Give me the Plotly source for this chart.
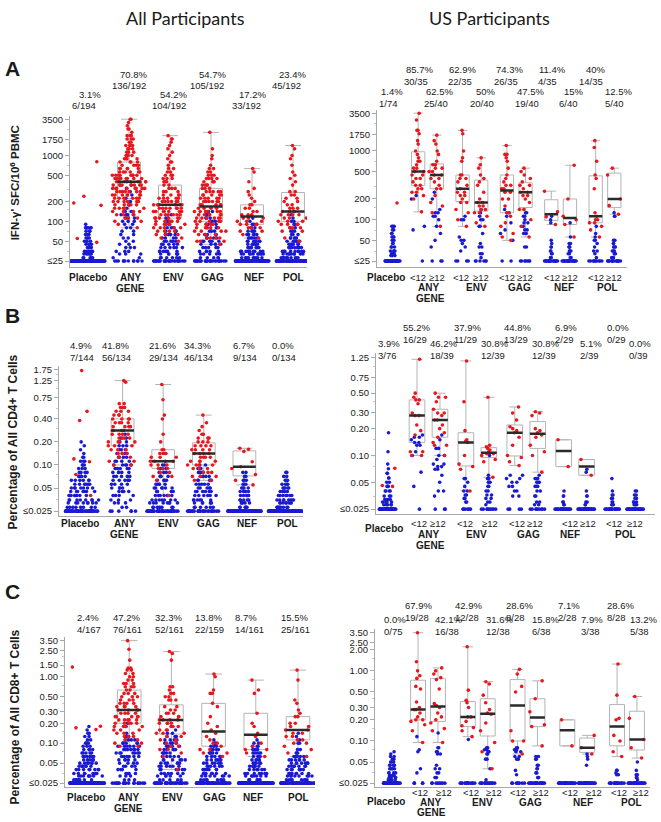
import numpy as np
import plotly.graph_objects as go

W, H = 661, 822

# ======================= DATA =======================
# each series: list of (value, number of dots at that value)
# ---- Panel A, all participants (IFN-g SFC/10^6 PBMC); order: Placebo, ANY GENE, ENV, GAG, NEF, POL
A_ALL_RED = [
    [(800, 1), (240, 1), (190, 1), (175, 1), (55, 1), (48, 1)],
    [(80, 1), (90, 1), (100, 2), (112, 3), (126, 3), (141, 4), (158, 5), (178, 6), (200, 6), (224, 6), (251, 7), (282, 7),
     (316, 8), (355, 8), (398, 8), (447, 8), (501, 8), (562, 6), (631, 5), (708, 4), (794, 4), (891, 4), (1000, 3), (1122, 3),
     (1259, 3), (1413, 4), (1585, 2), (1778, 3), (1995, 3), (2239, 1), (2512, 2), (2818, 1), (3162, 1), (3548, 2)],
    [(50, 1), (56, 2), (63, 3), (71, 4), (80, 5), (90, 5), (100, 6), (112, 6), (126, 6), (141, 7), (158, 7), (178, 6), (200, 6),
     (224, 5), (251, 4), (282, 3), (316, 3), (355, 2), (398, 3), (447, 3), (501, 3), (562, 2), (631, 2), (708, 1), (794, 2),
     (891, 1), (1000, 1), (1122, 1), (1259, 1), (1413, 1), (1585, 1), (1778, 2), (1995, 1)],
    [(45, 1), (50, 3), (56, 4), (63, 4), (71, 4), (80, 5), (90, 5), (100, 5), (112, 6), (126, 6), (141, 6), (158, 4), (178, 5),
     (200, 6), (224, 5), (251, 5), (282, 5), (316, 3), (355, 4), (398, 4), (447, 4), (501, 3), (562, 2), (631, 2), (708, 1),
     (891, 1), (1000, 1), (1259, 1), (2239, 1)],
    [(56, 1), (63, 1), (71, 2), (80, 3), (90, 4), (100, 3), (112, 3), (126, 3), (141, 2), (158, 2), (178, 2), (200, 1), (224, 1),
     (251, 1), (282, 1), (316, 1), (398, 1), (562, 1), (631, 1)],
    [(50, 1), (56, 1), (71, 2), (80, 3), (90, 4), (100, 3), (112, 3), (126, 4), (141, 3), (158, 3), (178, 2), (200, 2), (224, 2),
     (251, 2), (282, 2), (355, 1), (398, 1), (447, 1), (501, 1), (562, 1), (708, 1), (891, 1), (1000, 1), (1259, 1), (1413, 1)],
]
A_ALL_BLUE = [
    [(25, 140), (28, 6), (32, 6), (35, 5), (40, 5), (45, 4), (50, 4), (56, 3), (63, 3), (71, 3), (80, 6), (90, 1)],
    [(25, 12), (28, 2), (32, 3), (35, 3), (40, 3), (45, 2), (50, 2), (56, 2), (63, 2), (71, 2), (80, 2), (90, 2), (100, 3),
     (112, 3), (126, 4), (141, 2), (158, 1), (178, 1), (200, 1), (224, 1), (251, 1), (282, 1), (316, 1), (355, 1), (398, 1)],
    [(25, 30), (28, 6), (32, 6), (35, 6), (40, 6), (45, 5), (50, 5), (56, 4), (63, 4), (71, 3), (80, 3), (90, 3), (100, 3),
     (112, 2), (126, 1)],
    [(25, 30), (28, 5), (32, 5), (35, 5), (40, 5), (45, 5), (50, 5), (56, 4), (63, 3), (71, 3), (80, 3), (90, 3), (100, 3),
     (112, 3), (126, 3), (141, 2)],
    [(25, 85), (28, 10), (32, 10), (35, 9), (40, 8), (45, 7), (50, 7), (56, 6), (63, 5), (71, 4), (80, 3), (90, 2), (100, 1),
     (112, 1)],
    [(25, 80), (28, 10), (32, 9), (35, 9), (40, 8), (45, 7), (50, 7), (56, 5), (63, 3), (71, 3), (80, 2), (90, 2), (100, 2),
     (112, 1), (126, 1), (141, 1)],
]
# ---- Panel A, US participants; order: Placebo, ANY<12, ANY>=12, ENV<12, ENV>=12, GAG<12, GAG>=12, NEF<12, NEF>=12, POL<12, POL>=12
A_US_RED = [
    [(175, 1)],
    [(130, 1), (200, 1), (224, 1), (251, 2), (282, 2), (316, 2), (355, 1), (398, 2), (447, 2), (501, 2), (562, 2), (631, 1),
     (708, 2), (794, 1), (891, 1), (1000, 1), (1259, 1), (1413, 1), (1778, 1), (1995, 2), (2818, 1), (3548, 1)],
    [(80, 1), (126, 1), (158, 1), (178, 1), (224, 1), (282, 2), (316, 1), (355, 1), (398, 2), (447, 2), (501, 2), (562, 2),
     (631, 2), (708, 1), (891, 1), (1000, 1), (1259, 1), (1413, 1), (1700, 1)],
    [(80, 1), (100, 1), (126, 1), (141, 1), (178, 2), (200, 1), (224, 2), (251, 2), (282, 1), (316, 1), (355, 1), (398, 2),
     (447, 2), (708, 1), (794, 1), (1000, 1), (1778, 1), (1995, 1)],
    [(80, 1), (90, 1), (112, 1), (126, 2), (141, 2), (158, 2), (178, 2), (200, 1), (251, 1), (316, 1), (355, 1), (398, 1),
     (447, 1), (562, 1), (631, 1), (794, 1)],
    [(50, 1), (56, 1), (63, 1), (80, 1), (90, 1), (112, 1), (126, 2), (158, 1), (200, 2), (251, 2), (282, 2), (316, 2), (355, 1),
     (398, 1), (447, 1), (562, 1), (708, 1), (794, 1), (891, 2), (1200, 1)],
    [(56, 1), (80, 1), (100, 1), (141, 2), (178, 1), (200, 1), (224, 2), (251, 2), (282, 1), (316, 2), (355, 1), (398, 1),
     (447, 1), (501, 1), (562, 1)],
    [(85, 1), (110, 1), (130, 1), (260, 1)],
    [(56, 1), (85, 1), (100, 1), (112, 1), (200, 1), (620, 1)],
    [(56, 1), (71, 1), (80, 1), (90, 2), (100, 2), (112, 1), (126, 1), (282, 1), (398, 1), (447, 1), (708, 1), (1122, 1), (1413, 1)],
    [(120, 1), (160, 1), (200, 1), (447, 1), (562, 1)],
]
A_US_BLUE = [
    [(25, 45), (30, 3), (32, 3), (35, 4), (40, 3), (45, 2), (50, 2), (56, 3), (63, 2), (71, 2), (80, 3)],
    [(25, 1), (71, 1), (80, 1), (200, 1), (224, 1)],
    [(25, 3), (40, 1), (50, 1), (63, 1), (80, 1), (100, 1), (112, 2), (126, 2), (141, 1), (200, 1), (251, 1)],
    [(25, 4), (35, 1), (40, 1), (45, 1), (50, 2), (56, 1), (100, 2), (112, 1)],
    [(25, 6), (28, 1), (32, 2), (40, 2), (45, 1), (63, 1), (80, 2), (100, 2), (112, 1), (126, 1), (141, 1)],
    [(25, 2), (50, 1), (63, 1), (71, 1), (90, 1), (112, 1), (126, 1), (141, 1)],
    [(25, 7), (40, 2), (63, 2), (71, 2), (80, 1), (90, 2), (100, 1), (112, 2), (126, 2)],
    [(25, 18), (28, 2), (32, 2), (35, 2), (40, 2), (45, 1), (50, 1), (90, 1), (100, 1), (112, 1)],
    [(25, 20), (28, 2), (32, 2), (35, 3), (40, 3), (45, 2), (56, 1), (90, 1)],
    [(25, 10), (28, 1), (32, 1), (35, 2), (40, 1), (45, 1), (50, 2), (56, 1), (63, 1), (80, 1)],
    [(25, 16), (28, 3), (32, 3), (35, 3), (40, 3), (45, 2), (50, 2), (112, 2), (126, 1)],
]
# ---- Panel B (% of all CD4+ T cells)
B_ALL_RED = [
    [(1.7, 1), (0.5, 1), (0.38, 1), (0.12, 1), (0.11, 1), (0.075, 1), (0.04, 1)],
    [(0.1, 2), (0.112, 2), (0.126, 2), (0.141, 3), (0.158, 3), (0.178, 3), (0.2, 4), (0.224, 4), (0.251, 4), (0.282, 3),
     (0.316, 4), (0.355, 4), (0.398, 4), (0.447, 3), (0.501, 3), (0.562, 3), (0.631, 2), (1.2, 1), (1.26, 1)],
    [(0.04, 1), (0.063, 1), (0.071, 2), (0.08, 2), (0.09, 3), (0.1, 3), (0.112, 3), (0.126, 3), (0.141, 3), (0.158, 2),
     (0.2, 1), (0.251, 1), (0.398, 1), (0.447, 1), (0.708, 1), (1.12, 1)],
    [(0.063, 2), (0.071, 3), (0.08, 3), (0.09, 3), (0.1, 4), (0.112, 4), (0.126, 4), (0.141, 4), (0.158, 4), (0.178, 4),
     (0.2, 3), (0.224, 3), (0.251, 2), (0.282, 1), (0.316, 1), (0.355, 1), (0.447, 1)],
    [(0.055, 1), (0.063, 1), (0.075, 1), (0.09, 1), (0.095, 1), (0.11, 1), (0.15, 1), (0.16, 1), (0.165, 1)],
    [],
]
B_ALL_BLUE = [
    [(0.025, 55), (0.028, 8), (0.032, 8), (0.035, 8), (0.04, 8), (0.045, 7), (0.05, 7), (0.056, 6), (0.063, 6), (0.071, 5),
     (0.08, 4), (0.09, 3), (0.1, 3), (0.112, 3), (0.126, 2), (0.141, 1), (0.158, 1), (0.178, 1), (0.2, 1)],
    [(0.025, 6), (0.028, 2), (0.032, 3), (0.035, 3), (0.04, 4), (0.045, 4), (0.05, 4), (0.056, 4), (0.063, 5), (0.071, 5),
     (0.08, 5), (0.09, 5), (0.1, 5), (0.112, 4), (0.126, 4), (0.141, 3), (0.158, 3), (0.178, 3), (0.2, 2), (0.224, 2),
     (0.251, 1), (0.282, 1)],
    [(0.025, 40), (0.028, 8), (0.032, 8), (0.035, 7), (0.04, 7), (0.045, 6), (0.05, 6), (0.056, 5), (0.063, 4), (0.071, 4),
     (0.08, 3), (0.09, 3), (0.1, 2), (0.112, 1), (0.141, 1)],
    [(0.025, 30), (0.028, 6), (0.032, 6), (0.035, 6), (0.04, 6), (0.045, 6), (0.05, 5), (0.056, 5), (0.063, 5), (0.071, 4),
     (0.08, 4), (0.09, 3), (0.1, 2)],
    [(0.025, 85), (0.028, 6), (0.032, 5), (0.035, 5), (0.04, 5), (0.045, 5), (0.05, 4), (0.056, 3), (0.063, 3), (0.071, 2),
     (0.08, 2)],
    [(0.025, 80), (0.028, 9), (0.032, 8), (0.035, 8), (0.04, 7), (0.045, 6), (0.05, 5), (0.056, 4), (0.063, 3), (0.071, 2),
     (0.08, 2)],
]
B_US_RED = [
    [(0.072, 1), (0.046, 1), (0.045, 1)],
    [(0.1, 2), (0.11, 2), (0.17, 1), (0.19, 1), (0.22, 1), (0.28, 2), (0.3, 1), (0.38, 1), (0.42, 2), (0.45, 1), (0.5, 1), (1.2, 1)],
    [(0.1, 1), (0.13, 2), (0.14, 1), (0.16, 1), (0.18, 1), (0.2, 1), (0.22, 1), (0.25, 2), (0.28, 1), (0.3, 2), (0.33, 1),
     (0.4, 1), (0.45, 2), (0.5, 1)],
    [(0.04, 1), (0.07, 1), (0.075, 1), (0.08, 1), (0.1, 1), (0.14, 1), (0.145, 1), (0.15, 1), (0.19, 1), (0.4, 1), (1.15, 1)],
    [(0.057, 1), (0.085, 1), (0.09, 1), (0.1, 1), (0.105, 2), (0.11, 1), (0.115, 1), (0.12, 1), (0.125, 1), (0.13, 1), (0.45, 1)],
    [(0.077, 1), (0.085, 1), (0.095, 1), (0.1, 1), (0.13, 1), (0.16, 1), (0.18, 1), (0.19, 1), (0.2, 1), (0.21, 1), (0.25, 1),
     (0.3, 1), (0.35, 1)],
    [(0.065, 1), (0.1, 1), (0.11, 1), (0.13, 1), (0.16, 1), (0.17, 1), (0.18, 1), (0.19, 1), (0.2, 1), (0.28, 1), (0.3, 1), (0.31, 1)],
    [(0.075, 1), (0.15, 1)],
    [(0.06, 1), (0.09, 1)],
    [],
    [],
]
B_US_BLUE = [
    [(0.025, 38), (0.028, 5), (0.03, 4), (0.032, 4), (0.035, 3), (0.04, 4), (0.045, 3), (0.05, 2), (0.056, 2), (0.063, 2),
     (0.071, 1), (0.08, 1), (0.11, 1), (0.18, 1)],
    [(0.025, 1), (0.045, 1), (0.065, 1), (0.1, 1), (0.11, 1), (0.13, 2), (0.14, 2), (0.15, 1), (0.16, 2), (0.17, 1)],
    [(0.025, 3), (0.035, 1), (0.04, 2), (0.05, 1), (0.06, 1), (0.07, 2), (0.075, 2), (0.08, 2), (0.09, 1), (0.1, 2), (0.12, 2),
     (0.15, 1), (0.17, 1)],
    [(0.025, 6), (0.03, 2), (0.033, 2), (0.036, 2), (0.04, 2), (0.045, 1), (0.05, 1), (0.055, 2)],
    [(0.025, 9), (0.028, 1), (0.03, 2), (0.033, 2), (0.036, 2), (0.04, 2), (0.045, 2), (0.05, 3), (0.055, 2), (0.06, 1), (0.1, 1)],
    [(0.025, 4), (0.035, 2), (0.04, 2), (0.045, 2), (0.05, 2), (0.055, 2), (0.06, 2)],
    [(0.025, 9), (0.028, 2), (0.03, 2), (0.035, 2), (0.04, 2), (0.045, 3), (0.05, 3), (0.055, 3), (0.06, 1)],
    [(0.025, 20), (0.028, 2), (0.03, 2), (0.035, 2), (0.04, 1)],
    [(0.025, 28), (0.028, 2), (0.03, 2), (0.035, 2), (0.04, 1), (0.065, 1), (0.07, 1)],
    [(0.025, 18), (0.028, 3), (0.03, 2), (0.033, 2), (0.036, 2), (0.04, 1), (0.055, 1)],
    [(0.025, 26), (0.028, 3), (0.03, 3), (0.033, 3), (0.036, 2), (0.04, 2)],
]
# ---- Panel C (% of all CD8+ T cells)
C_ALL_RED = [
    [(1.4, 1), (0.18, 1), (0.17, 1), (0.16, 1)],
    [(0.09, 2), (0.1, 2), (0.112, 2), (0.126, 3), (0.141, 3), (0.158, 3), (0.178, 4), (0.2, 5), (0.224, 5), (0.251, 5),
     (0.282, 4), (0.316, 4), (0.355, 4), (0.398, 4), (0.447, 3), (0.501, 3), (0.562, 3), (0.631, 2), (0.708, 3), (0.794, 3),
     (0.891, 2), (1.0, 2), (1.12, 2), (1.26, 2), (1.35, 2), (1.78, 1), (2.6, 1), (3.5, 1)],
    [(0.04, 1), (0.063, 1), (0.071, 1), (0.08, 2), (0.09, 2), (0.1, 2), (0.112, 2), (0.126, 2), (0.141, 3), (0.158, 3),
     (0.178, 3), (0.2, 4), (0.224, 4), (0.251, 3), (0.282, 3), (0.316, 2), (0.355, 2), (0.447, 3), (0.501, 2), (0.562, 2),
     (0.631, 1), (0.708, 2), (1.78, 1), (2.24, 1), (2.4, 1)],
    [(0.063, 1), (0.071, 2), (0.08, 2), (0.09, 1), (0.1, 2), (0.112, 1), (0.126, 1), (0.141, 1), (0.158, 1), (0.178, 1),
     (0.2, 1), (0.251, 1), (0.355, 1), (0.398, 1), (0.562, 2), (0.631, 1), (1.0, 1), (1.1, 1)],
    [(0.063, 1), (0.071, 1), (0.08, 2), (0.09, 1), (0.1, 1), (0.126, 1), (0.141, 1), (0.178, 1), (0.2, 1), (0.282, 1),
     (0.562, 1), (0.631, 1), (0.891, 1)],
    [(0.063, 1), (0.071, 1), (0.08, 1), (0.09, 1), (0.1, 2), (0.112, 2), (0.126, 2), (0.141, 2), (0.158, 2), (0.178, 2),
     (0.2, 2), (0.251, 2), (0.282, 1), (0.316, 1), (0.398, 1), (0.447, 1), (0.891, 1), (1.26, 1)],
]
C_ALL_BLUE = [
    [(0.025, 80), (0.028, 8), (0.032, 8), (0.035, 8), (0.04, 8), (0.045, 7), (0.05, 7), (0.056, 6), (0.063, 6), (0.071, 5),
     (0.08, 4), (0.09, 3), (0.1, 3), (0.112, 2), (0.126, 2), (0.141, 2), (0.158, 1), (0.178, 1)],
    [(0.025, 18), (0.028, 3), (0.032, 3), (0.035, 4), (0.04, 4), (0.045, 4), (0.05, 4), (0.056, 5), (0.063, 6), (0.071, 7),
     (0.08, 7), (0.09, 6), (0.1, 5), (0.112, 4), (0.126, 3), (0.141, 1), (0.178, 1), (0.2, 1)],
    [(0.025, 35), (0.028, 5), (0.032, 5), (0.035, 6), (0.04, 6), (0.045, 6), (0.05, 6), (0.056, 6), (0.063, 5), (0.071, 5),
     (0.08, 5), (0.09, 5), (0.1, 4), (0.112, 4), (0.126, 3), (0.141, 2), (0.158, 1)],
    [(0.025, 60), (0.028, 8), (0.032, 7), (0.035, 7), (0.04, 7), (0.045, 6), (0.05, 6), (0.056, 6), (0.063, 5), (0.071, 5),
     (0.08, 5), (0.09, 3), (0.1, 2), (0.112, 1)],
    [(0.025, 85), (0.028, 7), (0.032, 7), (0.035, 7), (0.04, 6), (0.045, 6), (0.05, 5), (0.056, 5), (0.063, 4), (0.071, 5),
     (0.08, 4), (0.09, 3), (0.1, 2), (0.112, 1)],
    [(0.025, 60), (0.028, 8), (0.032, 8), (0.035, 8), (0.04, 7), (0.045, 7), (0.05, 7), (0.056, 6), (0.063, 5), (0.071, 3),
     (0.08, 2), (0.1, 2), (0.112, 1), (0.126, 1), (0.141, 1)],
]
C_US_RED = [
    [],
    [(0.095, 1), (0.14, 1), (0.17, 1), (0.19, 1), (0.2, 2), (0.22, 1), (0.25, 1), (0.28, 2), (0.3, 1), (0.36, 1), (0.55, 1),
     (0.6, 1), (0.78, 1), (0.85, 1), (1.0, 1), (1.35, 1), (3.5, 1)],
    [(0.095, 1), (0.14, 1), (0.15, 1), (0.18, 1), (0.2, 1), (0.22, 1), (0.25, 1), (0.3, 1), (0.32, 1), (0.34, 1), (0.55, 1),
     (0.75, 1), (0.8, 1), (0.9, 1), (1.0, 1), (1.1, 1)],
    [(0.115, 1), (0.14, 1), (0.155, 1), (0.165, 1), (0.19, 1), (0.22, 2), (0.3, 1), (0.35, 1), (0.38, 1), (0.53, 1), (2.2, 1)],
    [(0.04, 1), (0.07, 1), (0.095, 1), (0.14, 1), (0.18, 1), (0.24, 1), (0.25, 1), (0.28, 1), (0.35, 1), (0.45, 1), (0.65, 1), (0.7, 1)],
    [(0.065, 1), (0.1, 2), (0.14, 1), (0.5, 1), (0.6, 1), (0.9, 1), (1.05, 1)],
    [(0.085, 1), (0.16, 1), (0.17, 1), (0.26, 1), (0.4, 1), (0.72, 1)],
    [(0.085, 1), (0.2, 1)],
    [(0.065, 1), (0.08, 1), (0.12, 1)],
    [(0.06, 1), (0.07, 1), (0.1, 1), (0.12, 1), (0.2, 1), (0.21, 1), (0.45, 1), (1.25, 1)],
    [(0.057, 1), (0.08, 1), (0.105, 1), (0.21, 1), (0.43, 1)],
]
C_US_BLUE = [
    [(0.025, 40), (0.028, 4), (0.03, 4), (0.032, 4), (0.035, 4), (0.04, 5), (0.045, 5), (0.05, 3), (0.055, 2), (0.06, 2),
     (0.065, 1), (0.07, 1)],
    [(0.025, 4), (0.035, 1), (0.04, 1), (0.07, 1), (0.075, 1), (0.115, 1)],
    [(0.025, 8), (0.03, 2), (0.035, 2), (0.04, 2), (0.045, 1), (0.065, 2), (0.07, 2), (0.08, 2), (0.13, 1)],
    [(0.025, 15), (0.105, 1)],
    [(0.025, 14), (0.028, 1), (0.04, 1), (0.055, 2), (0.065, 2), (0.07, 2), (0.075, 2), (0.08, 2)],
    [(0.025, 8), (0.033, 1), (0.038, 1), (0.055, 2), (0.06, 2), (0.07, 2), (0.075, 2), (0.08, 2)],
    [(0.025, 20), (0.03, 2), (0.035, 2), (0.04, 2), (0.045, 2), (0.055, 2), (0.06, 2)],
    [(0.025, 26)],
    [(0.025, 31), (0.045, 1), (0.055, 1), (0.06, 1), (0.065, 1)],
    [(0.025, 15), (0.033, 2), (0.035, 1), (0.038, 2)],
    [(0.025, 26), (0.028, 1), (0.03, 2), (0.033, 2), (0.038, 1), (0.05, 1)],
]

# ---- response-rate texts
A_ALL_PCT = ["3.1%", "70.8%", "54.2%", "54.7%", "17.2%", "23.4%"]
A_ALL_FRAC = ["6/194", "136/192", "104/192", "105/192", "33/192", "45/192"]
A_US_PCT = ["1.4%", "85.7%", "62.5%", "62.9%", "50%", "74.3%", "47.5%", "11.4%", "15%", "40%", "12.5%"]
A_US_FRAC = ["1/74", "30/35", "25/40", "22/35", "20/40", "26/35", "19/40", "4/35", "6/40", "14/35", "5/40"]
B_ALL_PCT = ["4.9%", "41.8%", "21.6%", "34.3%", "6.7%", "0.0%"]
B_ALL_FRAC = ["7/144", "56/134", "29/134", "46/134", "9/134", "0/134"]
B_US_PCT = ["3.9%", "55.2%", "46.2%", "37.9%", "30.8%", "44.8%", "30.8%", "6.9%", "5.1%", "0.0%", "0.0%"]
B_US_FRAC = ["3/76", "16/29", "18/39", "11/29", "12/39", "13/29", "12/39", "2/29", "2/39", "0/29", "0/39"]
C_ALL_PCT = ["2.4%", "47.2%", "32.3%", "13.8%", "8.7%", "15.5%"]
C_ALL_FRAC = ["4/167", "76/161", "52/161", "22/159", "14/161", "25/161"]
C_US_PCT = ["0.0%", "67.9%", "42.1%", "42.9%", "31.6%", "28.6%", "15.8%", "7.1%", "7.9%", "28.6%", "13.2%"]
C_US_FRAC = ["0/75", "19/28", "16/38", "12/28", "12/38", "8/28", "6/38", "2/28", "3/38", "8/28", "5/38"]

# ---- axis labels
ALL_XLABELS = ["Placebo", "ANY", "ENV", "GAG", "NEF", "POL"]
US_GENES = ["ANY", "ENV", "GAG", "NEF", "POL"]
US_SUB = ["<12", "≥12"]
A_TICKS = [25, 50, 100, 200, 500, 1000, 1750, 3500]
A_TICKTEXT = ["≤25", "50", "100", "200", "500", "1000", "1750", "3500"]
B_ALL_TICKS = [0.025, 0.05, 0.10, 0.20, 0.40, 0.75, 1.25, 1.75]
B_ALL_TICKTEXT = ["≤0.025", "0.05", "0.10", "0.20", "0.40", "0.75", "1.25", "1.75"]
B_US_TICKS = [0.025, 0.05, 0.10, 0.20, 0.30, 0.50, 0.75, 1.25]
B_US_TICKTEXT = ["≤0.025", "0.05", "0.10", "0.20", "0.30", "0.50", "0.75", "1.25"]
C_ALL_TICKS = [0.025, 0.05, 0.10, 0.20, 0.30, 0.50, 1.00, 1.50, 2.50, 3.50]
C_ALL_TICKTEXT = ["≤0.025", "0.05", "0.10", "0.20", "0.30", "0.50", "1.00", "1.50", "2.50", "3.50"]
C_US_TICKS = [0.025, 0.05, 0.10, 0.20, 0.30, 0.50, 1.00, 2.00, 2.50, 3.50]
C_US_TICKTEXT = ["≤0.025", "0.05", "0.10", "0.20", "0.30", "0.50", "1.00", "2.00", "2.50", "3.50"]

# ======================= LAYOUT / STYLE =======================
RED = "#e8161d"
BLUE = "#1a1ad2"
BOXC = "#b4b4b4"
AXC = "#a8a8a8"
TXT = "#1a1a1a"
FONT = "Liberation Sans, Arial, sans-serif"
ANN_SIZE = 9.5


def fx(px):
    return px / W


def fy(py):
    return 1 - py / H


def lin_range(a, b, lo_px, hi_px):
    (v0, p0), (v1, p1) = a, b
    k = (v1 - v0) / (p1 - p0)
    return [v0 + (lo_px - p0) * k, v0 + (hi_px - p0) * k]


def log_range(a, b, top_px, bot_px):
    (va, pa), (vb, pb) = a, b
    la, lb = np.log10(va), np.log10(vb)
    k = (la - lb) / (pb - pa)
    return [lb - (bot_px - pb) * k, la + (pa - top_px) * k]


def expand(pairs):
    if not pairs:
        return np.array([])
    return np.repeat([v for v, c in pairs], [c for v, c in pairs]).astype(float)


def us_positions(p0, o):
    pos = [p0]
    for g in range(1, 6):
        pos += [g - o, g + o]
    return pos


panels = [
    dict(red=A_ALL_RED, blue=A_ALL_BLUE, xdom=(70, 307), ydom=(114, 266), xa=((0, 88), (5, 293)),
         ya=((3500, 118), (25, 260)), ticks=A_TICKS, tt=A_TICKTEXT, minor=[35, 70, 150, 300, 700, 2500],
         pos=[0, 1, 2, 3, 4, 5], bw=0.56, pw=0.82),
    dict(red=A_US_RED, blue=A_US_BLUE, xdom=(377, 627), ydom=(108, 266), xa=((1, 427.5), (5, 605)),
         ya=((3500, 112), (25, 260)), ticks=A_TICKS, tt=A_TICKTEXT, minor=[35, 70, 150, 300, 700, 2500],
         pos=us_positions(0.22, 0.21), bw=0.3, pw=0.36),
    dict(red=B_ALL_RED, blue=B_ALL_BLUE, xdom=(59, 303), ydom=(365, 516), xa=((0, 82), (5, 285)),
         ya=((1.75, 369), (0.025, 511)), ticks=B_ALL_TICKS, tt=B_ALL_TICKTEXT, minor=[0.035, 0.075, 0.15, 0.3, 0.55, 1.0, 1.5],
         pos=[0, 1, 2, 3, 4, 5], bw=0.56, pw=0.82),
    dict(red=B_US_RED, blue=B_US_BLUE, xdom=(376, 655), ydom=(352, 514), xa=((1, 428.5), (5, 624)),
         ya=((1.25, 357), (0.025, 509)), ticks=B_US_TICKS, tt=B_US_TICKTEXT, minor=[0.035, 0.075, 0.15, 0.4, 1.0],
         pos=us_positions(0.17, 0.235), bw=0.32, pw=0.36),
    dict(red=C_ALL_RED, blue=C_ALL_BLUE, xdom=(65, 315), ydom=(637, 788), xa=((0, 87), (5, 298)),
         ya=((3.5, 641), (0.025, 784)), ticks=C_ALL_TICKS, tt=C_ALL_TICKTEXT, minor=[0.035, 0.075, 0.15, 0.4, 0.75, 2.0],
         pos=[0, 1, 2, 3, 4, 5], bw=0.56, pw=0.82),
    dict(red=C_US_RED, blue=C_US_BLUE, xdom=(375, 650), ydom=(629, 788), xa=((1, 428), (5, 627)),
         ya=((3.5, 633), (0.025, 784)), ticks=C_US_TICKS, tt=C_US_TICKTEXT, minor=[0.035, 0.075, 0.15, 0.4, 0.75, 1.5],
         pos=us_positions(0.28, 0.2), bw=0.3, pw=0.36),
]

fig = go.Figure()
layout = dict(width=W, height=H, margin=dict(l=0, r=0, t=0, b=0), paper_bgcolor="white",
              plot_bgcolor="white", showlegend=False, boxmode="overlay", hovermode=False)

for i, P in enumerate(panels):
    n = i + 1
    xs = "x" if n == 1 else f"x{n}"
    ys = "y" if n == 1 else f"y{n}"
    xr = lin_range(P["xa"][0], P["xa"][1], P["xdom"][0], P["xdom"][1])
    yr = log_range(P["ya"][0], P["ya"][1], P["ydom"][0], P["ydom"][1])
    layout["xaxis" if n == 1 else f"xaxis{n}"] = dict(
        domain=[fx(P["xdom"][0]), fx(P["xdom"][1])], range=xr, anchor=ys, showticklabels=False,
        ticks="", showline=True, linecolor=AXC, linewidth=1, showgrid=False, zeroline=False)
    layout["yaxis" if n == 1 else f"yaxis{n}"] = dict(
        domain=[fy(P["ydom"][1]), fy(P["ydom"][0])], range=yr, type="log", anchor=xs,
        tickvals=P["ticks"], ticktext=P["tt"], ticks="outside", ticklen=4, tickcolor=AXC,
        showline=True, linecolor=AXC, linewidth=1, showgrid=False, zeroline=False,
        tickfont=dict(family=FONT, size=9.5, color=TXT),
        minor=dict(tickvals=P["minor"], ticks="outside", ticklen=2, tickcolor="#c8c8c8", showgrid=False))

    for g, x in enumerate(P["pos"]):
        red = expand(P["red"][g])
        blue = expand(P["blue"][g])
        if g > 0 and len(red) > 0:
            fig.add_trace(go.Box(y=red, x=[x] * len(red), width=P["bw"], boxpoints=False,
                                 line=dict(color=BOXC, width=1), fillcolor="rgba(0,0,0,0)",
                                 whiskerwidth=0.7, xaxis=xs, yaxis=ys, hoverinfo="skip"))
        for vals, col in ((blue, BLUE), (red, RED)):
            if len(vals) == 0:
                continue
            fig.add_trace(go.Box(y=vals, x=[x] * len(vals), width=P["pw"], boxpoints="all", jitter=1,
                                 pointpos=0, line=dict(color="rgba(0,0,0,0)", width=0),
                                 fillcolor="rgba(0,0,0,0)",
                                 marker=dict(color=col, size=3.6, line=dict(width=0)),
                                 xaxis=xs, yaxis=ys, hoverinfo="skip"))
        if g > 0 and len(red) > 0:
            med = float(np.median(red))
            fig.add_trace(go.Scatter(x=[x - P["bw"] / 2, x + P["bw"] / 2], y=[med, med], mode="lines",
                                     line=dict(color="#2a2a2a", width=2.5), xaxis=xs, yaxis=ys,
                                     hoverinfo="skip"))

ann = []


def text(px, py, s, size=ANN_SIZE, bold=False, anchor="left", family=FONT, color=TXT, angle=0):
    ann.append(dict(x=fx(px), y=fy(py), xref="paper", yref="paper", text=f"<b>{s}</b>" if bold else s,
                    showarrow=False, xanchor=anchor, yanchor="middle", textangle=angle,
                    font=dict(family=family, size=size, color=color)))


# titles and panel letters
text(185, 16, "All Participants", size=18, anchor="center", family="Lato, Carlito, sans-serif")
text(489, 16, "US Participants", size=18, anchor="center", family="Lato, Carlito, sans-serif")
text(3, 67, "A", size=21, bold=True)
text(3, 315, "B", size=21, bold=True)
text(3, 592, "C", size=21, bold=True)

# y-axis titles
text(15, 182, "IFN-γ' SFC/10<sup>6</sup> PBMC", size=11.5, bold=True, anchor="center", angle=-90)
text(13, 442, "Percentage of All CD4+ T Cells", size=12, bold=True, anchor="center", angle=-90)
text(15, 718, "Percentage of All CD8+ T Cells", size=12, bold=True, anchor="center", angle=-90)

# response-rate annotations (left edges in px, rows y)
A_ALL_PX = ([77, 118, 158, 197, 237, 277], [70, 110, 150, 188, 230, 270])
for g in range(6):
    top = g % 2 == 1
    y0 = 73 if top else 93
    text(A_ALL_PX[0][g], y0, A_ALL_PCT[g])
    text(A_ALL_PX[1][g], y0 + 11, A_ALL_FRAC[g])

A_US_PX = ([379, 404, 424, 447, 474, 494, 515, 537, 562, 584, 603],
           [377, 402, 422, 446, 468, 492, 513, 536, 557, 577, 603])
for g in range(11):
    top = g % 2 == 1
    y0 = 68 if top else 90
    text(A_US_PX[0][g], y0, A_US_PCT[g])
    text(A_US_PX[1][g], y0 + 12, A_US_FRAC[g])

B_ALL_PX = [68, 100, 147, 182, 231, 270]
for g in range(6):
    text(B_ALL_PX[g], 345, B_ALL_PCT[g])
    text(B_ALL_PX[g], 357, B_ALL_FRAC[g])

B_US_PX = [376, 401, 428, 452, 479, 502, 530, 553, 578, 605, 627]
for g in range(11):
    top = g % 2 == 1
    y0 = 327 if top else 343
    text(B_US_PX[g], y0, B_US_PCT[g])
    text(B_US_PX[g], y0 + 12, B_US_FRAC[g])

C_ALL_PX = [75, 111, 153, 193, 233, 279]
for g in range(6):
    text(C_ALL_PX[g], 618, C_ALL_PCT[g])
    text(C_ALL_PX[g], 630, C_ALL_FRAC[g])

C_US_PX = [382, 403, 433, 453, 484, 504, 530, 556, 579, 605, 628]
for g in range(11):
    top = g % 2 == 1
    y0 = 606 if top else 620
    text(C_US_PX[g], y0, C_US_PCT[g])
    text(C_US_PX[g], y0 + 12, C_US_FRAC[g])

# category labels, left panels
for cx, ly in (([88, 130, 173, 212, 254, 293], 277),
               ([80, 124, 168, 208, 247, 287], 523),
               ([86, 128, 172, 214, 253, 298], 798)):
    for g in range(6):
        text(cx[g], ly, ALL_XLABELS[g], size=10, bold=True, anchor="center")
    text(cx[1], ly + 11, "GENE", size=10, bold=True, anchor="center")

# category labels, US panels
for plac, subx, suby, genex, geney in (
        ((386, 277), [418, 437, 461, 481, 507, 525, 552, 570, 596, 614], 277, [428, 476, 519, 564, 607], 287),
        ((384, 528), [419, 438, 465, 490, 517, 535, 570, 588, 614, 635], 523, [428, 476, 528, 570, 625], 534),
        ((386, 802), [420, 444, 471, 494, 518, 541, 570, 594, 619, 641], 793, [430, 482, 530, 583, 631], 803)):
    text(plac[0], plac[1], "Placebo", size=10, bold=True, anchor="center")
    for k in range(10):
        text(subx[k], suby, US_SUB[k % 2], size=9.5, anchor="center")
    for k in range(5):
        text(genex[k], geney, US_GENES[k], size=10, bold=True, anchor="center")
    text(genex[0] + 2, min(geney + 11, 813), "GENE", size=10, bold=True, anchor="center")

layout["annotations"] = ann
fig.update_layout(**layout)
fig.write_html("out.html", config={"displayModeBar": False, "staticPlot": True},
               post_script="document.body.style.margin='0';document.body.style.overflow='hidden';")
